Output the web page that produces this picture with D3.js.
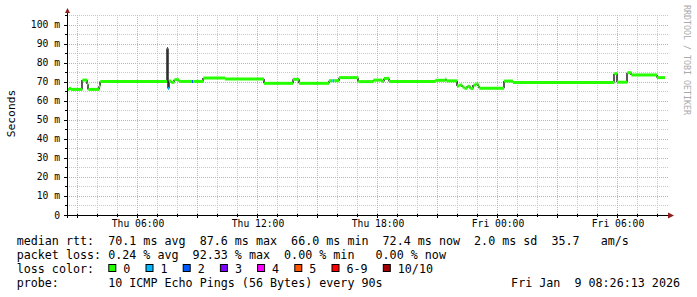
<!DOCTYPE html>
<html>
<head>
<meta charset="utf-8">
<script src="https://cdn.jsdelivr.net/npm/d3@7/dist/d3.min.js"></script>
<style>
body { margin: 0; background: #fff; }
text { font-family: "DejaVu Sans Mono", monospace; fill: #000; }
</style>
</head>
<body>
<svg id="chart" width="697" height="297"></svg>
<script>
// Median rtt steps (start of each step, value in ms, loss count bucket)
var stepTimes = [
    "2026-01-08 02:30", "2026-01-08 02:36", "2026-01-08 02:42", "2026-01-08 03:16",
    "2026-01-08 03:31", "2026-01-08 03:34", "2026-01-08 04:06", "2026-01-08 04:10",
    "2026-01-08 07:30", "2026-01-08 07:33", "2026-01-08 07:36", "2026-01-08 07:43",
    "2026-01-08 07:52", "2026-01-08 08:06", "2026-01-08 08:45", "2026-01-08 08:49",
    "2026-01-08 09:19", "2026-01-08 10:24", "2026-01-08 12:21", "2026-01-08 13:48",
    "2026-01-08 14:06", "2026-01-08 15:36", "2026-01-08 15:46", "2026-01-08 15:52",
    "2026-01-08 16:06", "2026-01-08 17:04", "2026-01-08 17:49", "2026-01-08 18:16",
    "2026-01-08 18:21", "2026-01-08 18:36", "2026-01-08 20:55", "2026-01-08 21:25",
    "2026-01-08 21:28", "2026-01-08 22:00", "2026-01-08 22:07", "2026-01-08 22:16",
    "2026-01-08 22:22", "2026-01-08 22:31", "2026-01-08 22:40", "2026-01-08 22:49",
    "2026-01-08 22:58", "2026-01-08 23:04", "2026-01-08 23:07", "2026-01-09 00:21",
    "2026-01-09 00:48", "2026-01-09 05:52", "2026-01-09 06:00", "2026-01-09 06:31",
    "2026-01-09 06:43", "2026-01-09 08:00"
];
var medianRtt = [
    66.1, 66.6, 66.1, 71.0,
    69.0, 66.1, 67.7, 70.2,
    87.6, 66.6, 70.5, 69.8,
    71.2, 70.3, 70.3, 70.3,
    72.1, 71.6, 69.3, 71.4,
    69.3, 70.7, 70.7, 70.7,
    72.3, 70.2, 71.0, 70.2,
    71.9, 70.2, 70.9, 71.6,
    70.6, 67.9, 68.4, 67.4,
    66.7, 67.7, 66.6, 68.4,
    69.1, 67.9, 66.7, 70.5,
    69.8, 74.4, 69.9, 74.9,
    73.7, 72.3
];
var lossIndex = [
    0, 0, 0, 0,
    0, 0, 0, 0,
    2, 1, 0, 0,
    0, 0, 2, 0,
    0, 0, 0, 0,
    0, 0, 1, 0,
    0, 0, 0, 0,
    0, 0, 0, 0,
    0, 0, 0, 0,
    0, 0, 0, 0,
    0, 0, 0, 0,
    0, 0, 0, 0,
    0, 0
];
var lastSample = "2026-01-09 08:24";

// Graph window and axis
var graphStart = "2026-01-08 02:30";
var graphEnd = "2026-01-09 08:30";
var yMax = 105.26;
var yTickValues = [0, 10, 20, 30, 40, 50, 60, 70, 80, 90, 100];

// Legend
var lossLabels = ["0", "1", "2", "3", "4", "5", "6-9", "10/10"];
var lossColors = ["#26ff00", "#00b8ff", "#0059ff", "#7e00ff", "#ff00ff", "#ff5500", "#ff0000", "#a10000"];
var legendLines = [
    "median rtt:  70.1 ms avg  87.6 ms max  66.0 ms min  72.4 ms now  2.0 ms sd  35.7   am/s",
    "packet loss: 0.24 % avg  92.33 % max  0.00 % min   0.00 % now"
];
var probeLine = "probe:       10 ICMP Echo Pings (56 Bytes) every 90s";
var stampText = "Fri Jan  9 08:26:13 2026";
var sideText = "RRDTOOL / TOBI OETIKER";

// Layout (plot area edges)
var plotLeft = 67, plotRight = 667, plotTop = 15, plotBottom = 215;
var charW = 7.05;

var parse = d3.timeParse("%Y-%m-%d %H:%M");
var times = stepTimes.map(parse);

var svg = d3.select("#chart");

var xScale = d3.scaleTime()
    .domain([parse(graphStart), parse(graphEnd)])
    .range([plotLeft, plotRight]);

var yScale = d3.scaleLinear()
    .domain([0, yMax])
    .range([plotBottom, plotTop]);

function px(v) { return Math.round(v) + 0.5; }

// Grid: minor every hour / 5 ms, major every 3 hours / 10 ms
var grid = svg.append("g");
var minorX = xScale.ticks(d3.timeHour.every(1));
var majorX = xScale.ticks(d3.timeHour.every(3));
var minorY = d3.range(5, yMax, 10);

grid.selectAll("line.vminor").data(minorX.filter(function(d) { return d.getHours() % 3 != 0; }))
    .enter().append("line")
    .attr("x1", function(d) { return px(xScale(d)); })
    .attr("x2", function(d) { return px(xScale(d)); })
    .attr("y1", plotTop).attr("y2", plotBottom)
    .attr("stroke", "#c8c8c8").attr("stroke-dasharray", "1,1");

grid.selectAll("line.hminor").data(minorY)
    .enter().append("line")
    .attr("x1", plotLeft).attr("x2", plotRight + 1)
    .attr("y1", function(d) { return px(yScale(d)); })
    .attr("y2", function(d) { return px(yScale(d)); })
    .attr("stroke", "#c8c8c8").attr("stroke-dasharray", "1,1");

grid.selectAll("line.vmajor").data(majorX)
    .enter().append("line")
    .attr("x1", function(d) { return px(xScale(d)); })
    .attr("x2", function(d) { return px(xScale(d)); })
    .attr("y1", plotTop).attr("y2", plotBottom)
    .attr("stroke", "#e6a3a3").attr("stroke-dasharray", "1,1");

grid.selectAll("line.hmajor").data(yTickValues.slice(1))
    .enter().append("line")
    .attr("x1", plotLeft).attr("x2", plotRight + 1)
    .attr("y1", function(d) { return px(yScale(d)); })
    .attr("y2", function(d) { return px(yScale(d)); })
    .attr("stroke", "#e6a3a3").attr("stroke-dasharray", "1,1");

// Dark connectors where the median changes
var marks = svg.append("g");
var connectors = d3.range(1, times.length);
marks.selectAll("line.step").data(connectors)
    .enter().append("line")
    .attr("x1", function(i) { return Math.round(xScale(times[i])); })
    .attr("x2", function(i) { return Math.round(xScale(times[i])); })
    .attr("y1", function(i) { return yScale(medianRtt[i - 1]); })
    .attr("y2", function(i) { return yScale(medianRtt[i]); })
    .attr("stroke", "#222")
    .attr("stroke-width", 1.5);

// Median segments coloured by loss
var endTime = parse(lastSample);
marks.selectAll("line.median").data(medianRtt)
    .enter().append("line")
    .attr("x1", function(d, i) { return xScale(times[i]); })
    .attr("x2", function(d, i) { return xScale(i + 1 < times.length ? times[i + 1] : endTime); })
    .attr("y1", function(d) { return yScale(d); })
    .attr("y2", function(d) { return yScale(d); })
    .attr("stroke", function(d, i) { return lossColors[lossIndex[i]]; })
    .attr("stroke-width", 3);

// Axes
var axes = svg.append("g");
axes.append("line")
    .attr("x1", plotLeft - 3).attr("x2", plotRight + 4)
    .attr("y1", plotBottom + 0.5).attr("y2", plotBottom + 0.5)
    .attr("stroke", "#000");
axes.append("line")
    .attr("x1", plotLeft + 0.5).attr("x2", plotLeft + 0.5)
    .attr("y1", plotBottom + 3).attr("y2", plotTop - 3)
    .attr("stroke", "#000");
axes.append("path")
    .attr("d", "M" + (plotRight + 1) + "," + (plotBottom - 2.5) + "L" + (plotRight + 7) + "," + (plotBottom + 0.5) + "L" + (plotRight + 1) + "," + (plotBottom + 3.5) + "Z")
    .attr("fill", "#8f1d1d");
axes.append("path")
    .attr("d", "M" + (plotLeft - 2) + "," + (plotTop - 2) + "L" + (plotLeft + 0.5) + "," + (plotTop - 7) + "L" + (plotLeft + 3) + "," + (plotTop - 2) + "Z")
    .attr("fill", "#8f1d1d");

// Axis ticks
axes.selectAll("line.xt").data(minorX)
    .enter().append("line")
    .attr("x1", function(d) { return px(xScale(d)); })
    .attr("x2", function(d) { return px(xScale(d)); })
    .attr("y1", plotBottom - 1)
    .attr("y2", function(d) { return d.getHours() % 3 == 0 ? plotBottom + 3 : plotBottom + 2; })
    .attr("stroke", "#000");
axes.selectAll("line.yt").data(d3.range(0, yMax, 5))
    .enter().append("line")
    .attr("x1", function(d) { return d % 10 == 0 ? plotLeft - 3 : plotLeft - 2; })
    .attr("x2", plotLeft + 1)
    .attr("y1", function(d) { return px(yScale(d)); })
    .attr("y2", function(d) { return px(yScale(d)); })
    .attr("stroke", "#000");

// Tick labels
var timeFormat = d3.timeFormat("%a %H:%M");
axes.selectAll("text.xl").data(xScale.ticks(d3.timeHour.every(6)))
    .enter().append("text")
    .attr("x", function(d) { return xScale(d) + 1; })
    .attr("y", plotBottom + 12)
    .attr("text-anchor", "middle")
    .style("font-size", "9.7px")
    .text(function(d) { return timeFormat(d); });

axes.selectAll("text.yl").data(yTickValues)
    .enter().append("text")
    .attr("x", plotLeft - 7)
    .attr("y", function(d) { return yScale(d) + 3.5; })
    .attr("text-anchor", "end")
    .style("font-size", "9.7px")
    .text(function(d) { return d == 0 ? "0" : d + " m"; });

svg.append("text")
    .attr("transform", "translate(15,113.5) rotate(-90)")
    .attr("text-anchor", "middle")
    .style("font-size", "11.3px")
    .text("Seconds");

svg.append("text")
    .attr("transform", "translate(684,5) rotate(90)")
    .style("font-size", "8.3px")
    .style("fill", "#aaa")
    .text(sideText);

// Legend text
var legend = svg.append("g").style("font-size", "11.7px");
legend.selectAll("text.row").data(legendLines)
    .enter().append("text")
    .attr("x", 16.7)
    .attr("y", function(d, i) { return 245 + i * 14; })
    .attr("xml:space", "preserve")
    .style("white-space", "pre")
    .text(function(d) { return d; });

legend.append("text")
    .attr("x", 16.7).attr("y", 273)
    .text("loss color:");

var boxX = [];
lossLabels.reduce(function(x, label) {
    boxX.push(x);
    return x + 9 + charW * (label.length + 3);
}, 108.3);

var item = legend.selectAll("g.loss").data(lossLabels)
    .enter().append("g")
    .attr("transform", function(d, i) { return "translate(" + boxX[i] + ",0)"; });
item.append("rect")
    .attr("x", 0.5).attr("y", 264.5)
    .attr("width", 7).attr("height", 7)
    .attr("fill", function(d, i) { return lossColors[i]; })
    .attr("stroke", "#000");
item.append("text")
    .attr("x", 15).attr("y", 273)
    .text(function(d) { return d; });

legend.append("text")
    .attr("x", 16.7).attr("y", 287)
    .attr("xml:space", "preserve")
    .style("white-space", "pre")
    .text(probeLine);

legend.append("text")
    .attr("x", 680).attr("y", 287)
    .attr("text-anchor", "end")
    .attr("xml:space", "preserve")
    .style("white-space", "pre")
    .text(stampText);
</script>
</body>
</html>
